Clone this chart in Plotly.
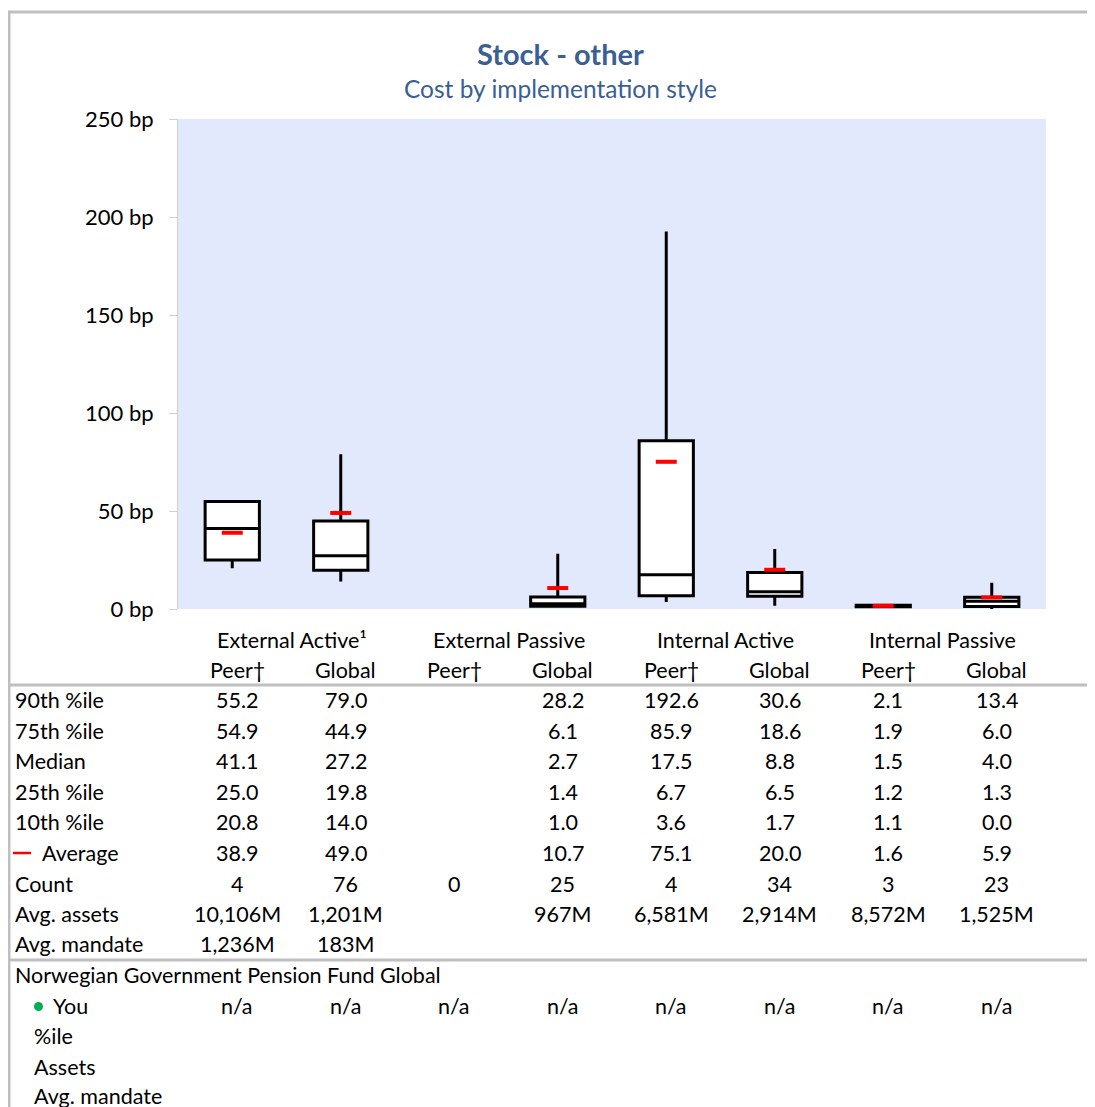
import plotly.graph_objects as go

# ---- data ----
categories = ["EA Peer", "EA Global", "EP Peer", "EP Global",
              "IA Peer", "IA Global", "IP Peer", "IP Global"]
group_labels = ["External Active¹", "External Passive", "Internal Active", "Internal Passive"]
sub_labels = ["Peer†", "Global", "Peer†", "Global", "Peer†", "Global", "Peer†", "Global"]

p90 = [55.2, 79.0, None, 28.2, 192.6, 30.6, 2.1, 13.4]
p75 = [54.9, 44.9, None, 6.1, 85.9, 18.6, 1.9, 6.0]
median = [41.1, 27.2, None, 2.7, 17.5, 8.8, 1.5, 4.0]
p25 = [25.0, 19.8, None, 1.4, 6.7, 6.5, 1.2, 1.3]
p10 = [20.8, 14.0, None, 1.0, 3.6, 1.7, 1.1, 0.0]
average = [38.9, 49.0, None, 10.7, 75.1, 20.0, 1.6, 5.9]
count = [4, 76, 0, 25, 4, 34, 3, 23]
avg_assets = ["10,106M", "1,201M", "", "967M", "6,581M", "2,914M", "8,572M", "1,525M"]
avg_mandate = ["1,236M", "183M", "", "", "", "", "", ""]
you = ["n/a"] * 8

yticks = [0, 50, 100, 150, 200, 250]
ytick_labels = [f"{v} bp" for v in yticks]

FONT = "Lato"
TITLE_BLUE = "#3A5F94"
GRID_GRAY = "#BFBFBF"

OFF = 8  # page body margin
W = 1095 - 2 * OFF
H = 1107 - OFF
L, T = 178 - OFF, 119 - OFF
R = W - (1046 - OFF)
B = H - (609 - OFF)
PH = H - T - B
PW = W - L - R


def py(p):
    # p: pixel y in the reference screenshot
    return (H - B - (p - OFF)) / PH


def px(p):
    # p: pixel x in the reference screenshot
    return ((p - OFF) - L) / PW


idx = [i for i in range(len(categories)) if median[i] is not None]

fig = go.Figure()
fig.add_trace(go.Box(
    x=idx,
    q1=[p25[i] for i in idx],
    median=[median[i] for i in idx],
    q3=[p75[i] for i in idx],
    lowerfence=[p10[i] for i in idx],
    upperfence=[p90[i] for i in idx],
    width=0.5,
    whiskerwidth=0,
    fillcolor="white",
    line=dict(color="black", width=3),
    boxpoints=False,
    showlegend=False,
    hoverinfo="skip",
))
fig.add_trace(go.Scatter(
    x=idx,
    y=[average[i] for i in idx],
    mode="markers",
    marker=dict(symbol="line-ew", size=15, line=dict(width=4, color="#FF0000")),
    showlegend=False,
    hoverinfo="skip",
    cliponaxis=False,
))

ann = []
FS = 21.5
TXT = dict(family=FONT, size=FS, color="black")

# title
ann.append(dict(text="<b>Stock - other</b>", x=px(560), y=py(54), xref="paper", yref="paper",
                showarrow=False, font=dict(family=FONT, size=29, color=TITLE_BLUE),
                xanchor="center", yanchor="middle"))
ann.append(dict(text="Cost by implementation style", x=px(560), y=py(89), xref="paper", yref="paper",
                showarrow=False, font=dict(family=FONT, size=24.5, color=TITLE_BLUE),
                xanchor="center", yanchor="middle"))

# group headers
for g, lab in enumerate(group_labels):
    ann.append(dict(text=lab, x=2 * g + 0.5, y=py(640), xref="x", yref="paper", showarrow=False,
                    font=TXT, xanchor="center", yanchor="middle", xshift=5))
for i, lab in enumerate(sub_labels):
    ann.append(dict(text=lab, x=i, y=py(670), xref="x", yref="paper", showarrow=False,
                    font=TXT, xanchor="center", yanchor="middle", xshift=5))


def fmt(v):
    return "" if v is None else f"{v:.1f}"


rows = [
    ("90th %ile", [fmt(v) for v in p90], 700, 13),
    ("75th %ile", [fmt(v) for v in p75], 731, 13),
    ("Median", [fmt(v) for v in median], 761, 13),
    ("25th %ile", [fmt(v) for v in p25], 792, 13),
    ("10th %ile", [fmt(v) for v in p10], 822, 13),
    ("Average", [fmt(v) for v in average], 853, 40),
    ("Count", [str(c) for c in count], 884, 13),
    ("Avg. assets", avg_assets, 914, 13),
    ("Avg. mandate", avg_mandate, 944, 13),
]
for label, vals, yp, xl in rows:
    ann.append(dict(text=label, x=px(xl), y=py(yp), xref="paper", yref="paper", showarrow=False,
                    font=TXT, xanchor="left", yanchor="middle"))
    for i, v in enumerate(vals):
        if v:
            ann.append(dict(text=v, x=i, y=py(yp), xref="x", yref="paper", showarrow=False,
                            font=TXT, xanchor="center", yanchor="middle", xshift=5))

ann.append(dict(text="Norwegian Government Pension Fund Global", x=px(13), y=py(975), xref="paper",
                yref="paper", showarrow=False, font=TXT, xanchor="left", yanchor="middle"))
ann.append(dict(text="You", x=px(51), y=py(1006), xref="paper",
                yref="paper", showarrow=False, font=TXT, xanchor="left", yanchor="middle"))
for i, v in enumerate(you):
    ann.append(dict(text=v, x=i, y=py(1006), xref="x", yref="paper", showarrow=False,
                    font=TXT, xanchor="center", yanchor="middle", xshift=5))
for lab, yp in [("%ile", 1036), ("Assets", 1067), ("Avg. mandate", 1096)]:
    ann.append(dict(text=lab, x=px(32), y=py(yp), xref="paper", yref="paper", showarrow=False,
                    font=TXT, xanchor="left", yanchor="middle"))

shapes = [
    dict(type="line", xref="paper", yref="paper", x0=px(10), x1=px(1095), y0=py(685), y1=py(685),
         line=dict(color=GRID_GRAY, width=3)),
    dict(type="line", xref="paper", yref="paper", x0=px(10), x1=px(1095), y0=py(960), y1=py(960),
         line=dict(color=GRID_GRAY, width=3)),
    dict(type="line", xref="paper", yref="paper", x0=px(8), x1=px(1095), y0=py(12), y1=py(12),
         line=dict(color=GRID_GRAY, width=3)),
    dict(type="line", xref="paper", yref="paper", x0=px(9), x1=px(9), y0=py(11), y1=py(1107),
         line=dict(color=GRID_GRAY, width=3)),
    # red legend dash for "Average"
    dict(type="line", xref="paper", yref="paper", x0=px(13), x1=px(31), y0=py(853), y1=py(853),
         line=dict(color="#FF0000", width=2.5)),
    # green bullet for "You"
    dict(type="circle", xref="paper", yref="paper", x0=px(34), x1=px(43), y0=py(1002), y1=py(1011),
         fillcolor="#00B050", line=dict(width=0)),
]

fig.update_layout(
    width=W, height=H,
    margin=dict(l=L, r=R, t=T, b=B, autoexpand=False),
    paper_bgcolor="white",
    plot_bgcolor="#E2E9FC",
    font=dict(family=FONT, size=FS, color="black"),
    annotations=ann,
    shapes=shapes,
    xaxis=dict(range=[-0.5, 7.5], showticklabels=False, showgrid=False, zeroline=False,
               showline=False, ticks=""),
    yaxis=dict(range=[0, 250], tickmode="array", tickvals=yticks, ticktext=ytick_labels,
               showgrid=False, zeroline=False,
               showline=True, linecolor="#D0D0D0", linewidth=1, ticks="outside", ticklen=8,
               tickcolor="#D0D0D0", ticklabelstandoff=11,
               tickfont=dict(family=FONT, size=22, color="black")),
)

fig.write_html("out.html")
